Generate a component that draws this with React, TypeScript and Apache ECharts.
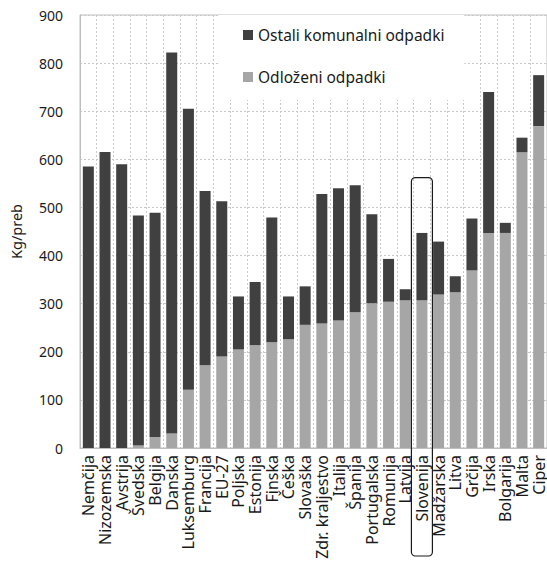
import React, { useEffect, useRef } from "react";
import * as echarts from "echarts";

const countries = [
  "Nemčija", "Nizozemska", "Avstrija", "Švedska", "Belgija", "Danska", "Luksemburg",
  "Francija", "EU-27", "Poljska", "Estonija", "Finska", "Češka", "Slovaška",
  "Zdr. kraljestvo", "Italija", "Španija", "Portugalska", "Romunija", "Latvija",
  "Slovenija", "Madžarska", "Litva", "Grčija", "Irska", "Bolgarija", "Malta", "Ciper",
];
const odlozeni = [
  0, 0, 0, 5, 23, 30, 121, 172, 190, 205, 214, 220, 226, 256,
  259, 265, 282, 301, 304, 307, 307, 319, 324, 369, 447, 447, 615, 669,
];
const ostali = [
  585, 615, 590, 478, 466, 792, 584, 362, 323, 110, 131, 259, 89, 80,
  269, 275, 264, 185, 89, 23, 140, 110, 33, 108, 293, 21, 30, 106,
];
const yTicks = [0, 100, 200, 300, 400, 500, 600, 700, 800, 900];
const highlighted = "Slovenija";
const highlightTopValue = 562;

const FONT = "'Noto Sans', sans-serif";

export default function App() {
  const ref = useRef<HTMLDivElement>(null);
  useEffect(() => {
    if (!ref.current) return;
    const chart = echarts.init(ref.current, null, { renderer: "svg" });
    chart.setOption({
      animation: false,
      backgroundColor: "#fff",
      textStyle: { fontFamily: FONT },
      grid: { left: 74, right: -3, top: 15, bottom: 115, show: true, borderColor: "#bfbfbf", borderWidth: 1, backgroundColor: "transparent" },
      legend: {
        orient: "vertical",
        left: 218,
        top: 15,
        backgroundColor: "#fff",
        padding: [10, 20, 13, 25],
        itemGap: 22,
        itemWidth: 10,
        itemHeight: 10,
        icon: "rect",
        textStyle: { fontFamily: FONT, fontSize: 15.5, color: "#1a1a1a", lineHeight: 20 },
        data: ["Ostali komunalni odpadki", "Odloženi odpadki"],
        selectedMode: false,
        z: 1,
      },
      xAxis: {
        type: "category",
        data: countries,
        axisLine: { lineStyle: { color: "#bfbfbf" } },
        axisTick: { show: false },
        axisLabel: { rotate: 90, fontSize: 16, color: "#1a1a1a", fontFamily: FONT, margin: 7, interval: 0 },
        splitLine: { show: true, interval: 0, lineStyle: { color: "#c8c8c8", type: [2, 2] } },
      },
      yAxis: {
        type: "value",
        min: yTicks[0],
        max: yTicks[yTicks.length - 1],
        interval: 100,
        name: "Kg/preb",
        nameLocation: "middle",
        nameGap: 57,
        nameTextStyle: { fontSize: 14.5, color: "#1a1a1a", fontFamily: FONT },
        axisLine: { show: true, lineStyle: { color: "#bfbfbf" } },
        axisTick: { show: false },
        axisLabel: { fontSize: 14, color: "#1a1a1a", fontFamily: FONT, margin: 17 },
        splitLine: { show: true, lineStyle: { color: "#c8c8c8", type: [2, 2] } },
      },
      series: [
        {
          name: "Odloženi odpadki",
          type: "bar",
          stack: "total",
          data: odlozeni,
          barWidth: 11,
          itemStyle: { color: "#a6a6a6" },
          z: 2,
        },
        {
          name: "Ostali komunalni odpadki",
          type: "bar",
          stack: "total",
          data: ostali,
          barWidth: 11,
          itemStyle: { color: "#404040" },
          z: 2,
        },
      ],
    });
    const cx = chart.convertToPixel({ xAxisIndex: 0 }, highlighted) as number;
    const ty = chart.convertToPixel({ yAxisIndex: 0 }, highlightTopValue) as number;
    chart.setOption({
      graphic: [
        {
          type: "rect",
          shape: { x: cx - 10.5, y: ty, width: 21, height: 556 - ty, r: 4 },
          style: { fill: "none", stroke: "#1a1a1a", lineWidth: 1.2 },
          z: 10,
        },
      ],
    });
    return () => chart.dispose();
  }, []);
  return <div ref={ref} style={{ position: "absolute", left: 0, top: 0, width: 547, height: 563 }} />;
}
